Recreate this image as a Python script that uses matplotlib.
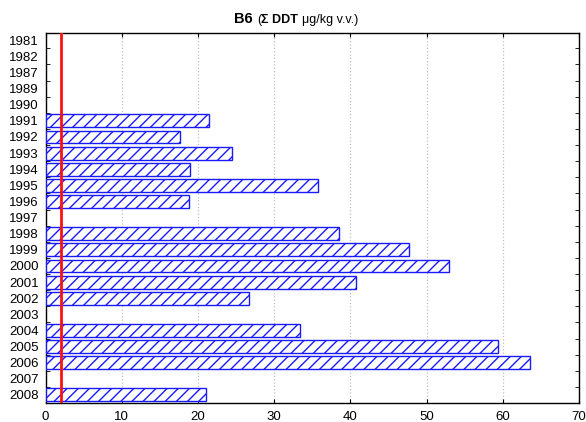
import numpy as np
import matplotlib
matplotlib.use("Agg")
import matplotlib.pyplot as plt
from matplotlib.offsetbox import TextArea, HPacker, AnchoredOffsetbox

plt.rcParams['font.family'] = ['Liberation Sans', 'DejaVu Sans']
plt.rcParams['hatch.color'] = '#1a1aff'

# data (sum DDT, ug/kg wet weight); nan = no sample
years = ['1981', '1982', '1987', '1989', '1990', '1991', '1992', '1993', '1994', '1995',
         '1996', '1997', '1998', '1999', '2000', '2001', '2002', '2003', '2004', '2005',
         '2006', '2007', '2008']
values = [np.nan, np.nan, np.nan, np.nan, np.nan, 21.4, 17.7, 24.5, 18.9, 35.7,
          18.8, np.nan, 38.5, 47.7, 53.0, 40.8, 26.7, np.nan, 33.4, 59.4,
          63.6, np.nan, 21.0]
limit_value = 2.0
xticks = [0, 10, 20, 30, 40, 50, 60, 70]

fig = plt.figure(figsize=(5.86, 4.22), dpi=100)
ax = fig.add_axes([45.5 / 586, 1 - 403 / 422, (579 - 45.5) / 586, (403 - 33) / 422])

pos = np.arange(len(years))
vals = np.array(values)
has = ~np.isnan(vals)
ax.barh(pos[has], vals[has], height=0.8, color='white', edgecolor='#1a1aff',
        hatch='///', linewidth=1.0, zorder=3)

ax.axvline(limit_value, color='#ff1010', linewidth=2, zorder=4)

ax.set_xlim(0, 70)
ax.set_xticks(xticks)
ax.set_ylim(len(years) - 0.5, -0.45)
ax.set_yticks(pos)
ax.set_yticklabels(years)
ax.set_yticks(np.arange(len(years) - 1) + 0.5, minor=True)

ax.tick_params(axis='y', which='major', length=0, labelsize=9.5, pad=5)
ax.tick_params(axis='y', which='minor', direction='in', length=3, right=True, left=True)
ax.tick_params(axis='x', direction='in', length=3, top=True, labelsize=9.5, pad=6)
ax.grid(axis='x', color='#c0c0c0', linestyle=':', linewidth=0.9, zorder=0)
for s in ax.spines.values():
    s.set_linewidth(1.0)

# title with mixed weights
parts = [TextArea('B6 ', textprops=dict(fontsize=10.5, fontweight='bold')),
         TextArea('(', textprops=dict(fontsize=9)),
         TextArea('\u03a3 DDT ', textprops=dict(fontsize=9, fontweight='bold')),
         TextArea('\u03bcg/kg v.v.)', textprops=dict(fontsize=9))]
box = HPacker(children=parts, align='baseline', pad=0, sep=0)
anch = AnchoredOffsetbox(loc='lower center', child=box, pad=0, borderpad=0, frameon=False,
                         bbox_to_anchor=(0.47, 1.02), bbox_transform=ax.transAxes)
ax.add_artist(anch)

fig.savefig('out.png', dpi=100)
